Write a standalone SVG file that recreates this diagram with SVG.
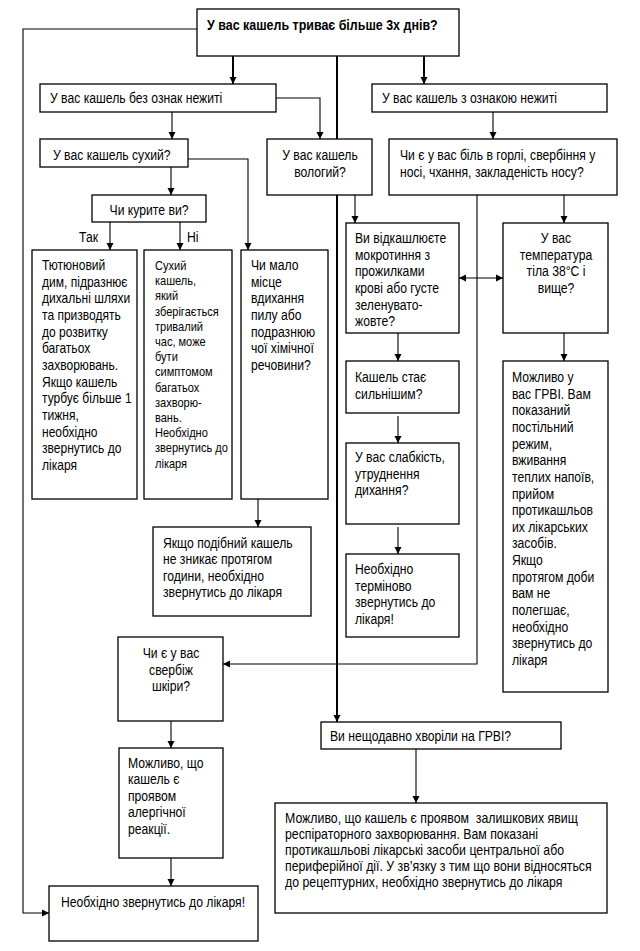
<svg xmlns="http://www.w3.org/2000/svg" width="640" height="951" viewBox="0 0 640 951">
<style>
.b{fill:#fff;stroke:#000;stroke-width:1.3}
.t{font-family:"Liberation Sans",Arial,sans-serif;font-size:14px;fill:#000}
.s{font-size:13px}
.bd{font-weight:bold}
.c{fill:none;stroke:#000;stroke-width:1.1}
.k{fill:none;stroke:#000;stroke-width:2}
</style>
<defs>
<marker id="a" viewBox="0 0 10 10" refX="10" refY="5" markerWidth="7" markerHeight="9" markerUnits="userSpaceOnUse" orient="auto-start-reverse"><path d="M0,0 L10,5 L0,10 z" fill="#000"/></marker>
</defs>
<rect width="640" height="951" fill="#fff"/>
<g id="connectors">
<polyline class="c" points="197,29 23,29 23,913 49,913" marker-end="url(#a)"/>
<line class="k" x1="233" y1="56" x2="233" y2="84" marker-end="url(#a)"/>
<line class="k" x1="424" y1="56" x2="424" y2="84" marker-end="url(#a)"/>
<line class="k" x1="337" y1="56" x2="337" y2="722" marker-end="url(#a)"/>
<polyline class="c" points="276,98 320,98 320,139" marker-end="url(#a)"/>
<line class="c" x1="172" y1="112" x2="172" y2="139" marker-end="url(#a)"/>
<line class="c" x1="493" y1="112" x2="493" y2="139" marker-end="url(#a)"/>
<polyline class="c" points="188,159 248,159 248,250" marker-end="url(#a)"/>
<line class="c" x1="171" y1="167" x2="171" y2="195" marker-end="url(#a)"/>
<line class="c" x1="110" y1="222" x2="110" y2="250" marker-end="url(#a)"/>
<line class="c" x1="180" y1="222" x2="180" y2="250" marker-end="url(#a)"/>
<line class="c" x1="355" y1="195" x2="355" y2="223" marker-end="url(#a)"/>
<polyline class="c" points="477,195 477,664 223,664" marker-end="url(#a)"/>
<line class="c" x1="564" y1="195" x2="564" y2="223" marker-end="url(#a)"/>
<line class="c" x1="459" y1="278" x2="503" y2="278" marker-start="url(#a)" marker-end="url(#a)"/>
<line class="c" x1="398" y1="333" x2="398" y2="361" marker-end="url(#a)"/>
<line class="c" x1="398" y1="416" x2="398" y2="443" marker-end="url(#a)"/>
<line class="c" x1="398" y1="527" x2="398" y2="554" marker-end="url(#a)"/>
<line class="c" x1="564" y1="333" x2="564" y2="361" marker-end="url(#a)"/>
<line class="c" x1="258" y1="499" x2="258" y2="527" marker-end="url(#a)"/>
<line class="c" x1="171" y1="721" x2="171" y2="748" marker-end="url(#a)"/>
<line class="c" x1="171" y1="858" x2="171" y2="886" marker-end="url(#a)"/>
<line class="c" x1="416" y1="749" x2="416" y2="803" marker-end="url(#a)"/>
</g>
<g id="n_top"><rect class="b" x="197" y="9" width="262" height="47"/>
<text class="t bd" transform="translate(207,30) scale(0.89,1)">У вас кашель триває більше 3х днів?</text></g>
<g id="n_bez"><rect class="b" x="40" y="84" width="236" height="28"/>
<text class="t" transform="translate(50,103) scale(0.87,1)">У вас кашель без ознак нежиті</text></g>
<g id="n_zoznak"><rect class="b" x="372" y="84" width="235" height="28"/>
<text class="t" transform="translate(382,103) scale(0.87,1)">У вас кашель з ознакою нежиті</text></g>
<g id="n_suhyi"><rect class="b" x="40" y="139" width="148" height="28"/>
<text class="t" transform="translate(53,160) scale(0.87,1)">У вас кашель сухий?</text></g>
<g id="n_vologyi"><rect class="b" x="267" y="139" width="105" height="56"/>
<text class="t" text-anchor="middle" transform="translate(320,160) scale(0.87,1)"><tspan x="0">У вас кашель</tspan><tspan x="0" dy="17">вологий?</tspan></text></g>
<g id="n_chyye"><rect class="b" x="389" y="139" width="228" height="56"/>
<text class="t" transform="translate(400,160) scale(0.87,1)"><tspan x="0">Чи є у вас біль в горлі, свербіння у</tspan><tspan x="0" dy="17">носі, чхання, закладеність носу?</tspan></text></g>
<g id="n_kuryte"><rect class="b" x="92" y="195" width="114" height="27"/>
<text class="t" text-anchor="middle" transform="translate(149,215) scale(0.87,1)">Чи курите ви?</text></g>
<g id="labels">
<text class="t" transform="translate(79,242) scale(0.87,1)">Так</text>
<text class="t" transform="translate(187,242) scale(0.87,1)">Ні</text>
</g>
<g id="n_tyutyun"><rect class="b" x="32" y="250" width="105" height="249"/>
<text class="t" transform="translate(42,270) scale(0.86,1)"><tspan x="0">Тютюновий</tspan><tspan x="0" dy="16.67">дим, підразнює</tspan><tspan x="0" dy="16.67">дихальні шляхи</tspan><tspan x="0" dy="16.67">та призводять</tspan><tspan x="0" dy="16.67">до розвитку</tspan><tspan x="0" dy="16.67">багатьох</tspan><tspan x="0" dy="16.67">захворювань.</tspan><tspan x="0" dy="16.67">Якщо кашель</tspan><tspan x="0" dy="16.67">турбує більше 1</tspan><tspan x="0" dy="16.67">тижня,</tspan><tspan x="0" dy="16.67">необхідно</tspan><tspan x="0" dy="16.67">звернутись до</tspan><tspan x="0" dy="16.67">лікаря</tspan></text></g>
<g id="n_suhyikash"><rect class="b" x="144" y="250" width="88" height="249"/>
<text class="t s" transform="translate(155,270) scale(0.85,1)"><tspan x="0">Сухий</tspan><tspan x="0" dy="15.2">кашель,</tspan><tspan x="0" dy="15.2">який</tspan><tspan x="0" dy="15.2">зберігається</tspan><tspan x="0" dy="15.2">тривалий</tspan><tspan x="0" dy="15.2">час, може</tspan><tspan x="0" dy="15.2">бути</tspan><tspan x="0" dy="15.2">симптомом</tspan><tspan x="0" dy="15.2">багатьох</tspan><tspan x="0" dy="15.2">захворю-</tspan><tspan x="0" dy="15.2">вань.</tspan><tspan x="0" dy="15.2">Необхідно</tspan><tspan x="0" dy="15.2">звернутись до</tspan><tspan x="0" dy="15.2">лікаря</tspan></text></g>
<g id="n_chymalo"><rect class="b" x="241" y="250" width="87" height="249"/>
<text class="t" transform="translate(251,270) scale(0.87,1)"><tspan x="0">Чи мало</tspan><tspan x="0" dy="16.67">місце</tspan><tspan x="0" dy="16.67">вдихання</tspan><tspan x="0" dy="16.67">пилу або</tspan><tspan x="0" dy="16.67">подразнюю</tspan><tspan x="0" dy="16.67">чої хімічної</tspan><tspan x="0" dy="16.67">речовини?</tspan></text></g>
<g id="n_vidkash"><rect class="b" x="346" y="223" width="113" height="110"/>
<text class="t" transform="translate(355,243) scale(0.87,1)"><tspan x="0">Ви відкашлюєте</tspan><tspan x="0" dy="16.7">мокротиння з</tspan><tspan x="0" dy="16.7">прожилками</tspan><tspan x="0" dy="16.7">крові або густе</tspan><tspan x="0" dy="16.7">зеленувато-</tspan><tspan x="0" dy="16.7">жовте?</tspan></text></g>
<g id="n_temp"><rect class="b" x="503" y="223" width="105" height="110"/>
<text class="t" text-anchor="middle" transform="translate(556,243) scale(0.87,1)"><tspan x="0">У вас</tspan><tspan x="0" dy="16.7">температура</tspan><tspan x="0" dy="16.7">тіла 38°С і</tspan><tspan x="0" dy="16.7">вище?</tspan></text></g>
<g id="n_kashelstae"><rect class="b" x="346" y="361" width="113" height="52"/>
<text class="t" transform="translate(355,382) scale(0.87,1)"><tspan x="0">Кашель стає</tspan><tspan x="0" dy="16.7">сильнішим?</tspan></text></g>
<g id="n_slabkist"><rect class="b" x="346" y="443" width="113" height="81"/>
<text class="t" transform="translate(355,462) scale(0.87,1)"><tspan x="0">У вас слабкість,</tspan><tspan x="0" dy="16.7">утруднення</tspan><tspan x="0" dy="16.7">дихання?</tspan></text></g>
<g id="n_terminovo"><rect class="b" x="346" y="554" width="113" height="83"/>
<text class="t" transform="translate(355,574) scale(0.87,1)"><tspan x="0">Необхідно</tspan><tspan x="0" dy="16.7">терміново</tspan><tspan x="0" dy="16.7">звернутись до</tspan><tspan x="0" dy="16.7">лікаря!</tspan></text></g>
<g id="n_grvi"><rect class="b" x="503" y="361" width="105" height="331"/>
<text class="t" transform="translate(512,382) scale(0.87,1)"><tspan x="0">Можливо у</tspan><tspan x="0" dy="16.65">вас ГРВІ. Вам</tspan><tspan x="0" dy="16.65">показаний</tspan><tspan x="0" dy="16.65">постільний</tspan><tspan x="0" dy="16.65">режим,</tspan><tspan x="0" dy="16.65">вживання</tspan><tspan x="0" dy="16.65">теплих напоїв,</tspan><tspan x="0" dy="16.65">прийом</tspan><tspan x="0" dy="16.65">протикашльов</tspan><tspan x="0" dy="16.65">их лікарських</tspan><tspan x="0" dy="16.65">засобів.</tspan><tspan x="0" dy="16.65">Якщо</tspan><tspan x="0" dy="16.65">протягом доби</tspan><tspan x="0" dy="16.65">вам не</tspan><tspan x="0" dy="16.65">полегшає,</tspan><tspan x="0" dy="16.65">необхідно</tspan><tspan x="0" dy="16.65">звернутись до</tspan><tspan x="0" dy="16.65">лікаря</tspan></text></g>
<g id="n_yakshcho"><rect class="b" x="153" y="527" width="158" height="89"/>
<text class="t" transform="translate(163,548) scale(0.87,1)"><tspan x="0">Якщо подібний кашель</tspan><tspan x="0" dy="16.5">не зникає протягом</tspan><tspan x="0" dy="16.5">години, необхідно</tspan><tspan x="0" dy="16.5">звернутись до лікаря</tspan></text></g>
<g id="n_sverbizh"><rect class="b" x="118" y="637" width="105" height="84"/>
<text class="t" text-anchor="middle" transform="translate(171,658) scale(0.87,1)"><tspan x="0">Чи є у вас</tspan><tspan x="0" dy="16.7">свербіж</tspan><tspan x="0" dy="16.7">шкіри?</tspan></text></g>
<g id="n_alerg"><rect class="b" x="119" y="748" width="104" height="110"/>
<text class="t" transform="translate(128,768) scale(0.87,1)"><tspan x="0">Можливо, що</tspan><tspan x="0" dy="16.5">кашель є</tspan><tspan x="0" dy="16.5">проявом</tspan><tspan x="0" dy="16.5">алергічної</tspan><tspan x="0" dy="16.5">реакції.</tspan></text></g>
<g id="n_neobh"><rect class="b" x="49" y="886" width="209" height="55"/>
<text class="t" text-anchor="middle" transform="translate(153,907) scale(0.87,1)">Необхідно звернутись до лікаря!</text></g>
<g id="n_vyneshch"><rect class="b" x="321" y="722" width="240" height="27"/>
<text class="t" transform="translate(330,741) scale(0.87,1)">Ви нещодавно хворіли на ГРВІ?</text></g>
<g id="n_big"><rect class="b" x="275" y="803" width="332" height="110"/>
<text class="t" xml:space="preserve" transform="translate(285,823) scale(0.88,1)"><tspan x="0">Можливо, що кашель є проявом  залишкових явищ</tspan><tspan x="0" dy="16">респіраторного захворювання. Вам показані</tspan><tspan x="0" dy="16">протикашльові лікарські засоби центральної або</tspan><tspan x="0" dy="16">периферійної дії. У зв’язку з тим що вони відносяться</tspan><tspan x="0" dy="16">до рецептурних, необхідно звернутись до лікаря</tspan></text></g>
</svg>
